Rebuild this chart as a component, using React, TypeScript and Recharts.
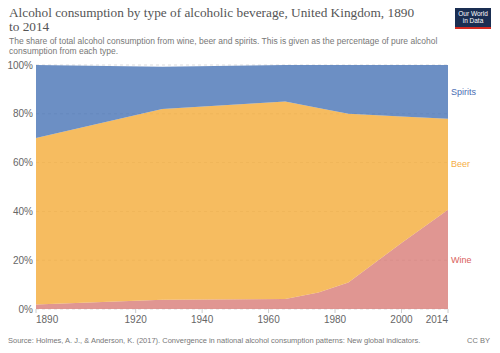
import React from 'react';
import { AreaChart, Area, XAxis, YAxis, CartesianGrid, ReferenceDot } from 'recharts';

// Share of pure alcohol consumption (%)
const years = [1890, 1928, 1965, 1975, 1984, 2000, 2014];
const wine = [1.8, 3.8, 4.1, 6.8, 10.9, 27.0, 40.7];
const beer = [68.3, 78.2, 80.9, 75.6, 69.1, 51.9, 37.3];
const spirits = [29.9, 17.3, 15.0, 17.6, 20.0, 21.1, 22.0];

const xTicks = [1890, 1920, 1940, 1960, 1980, 2000, 2014];
const yTicks = [0, 20, 40, 60, 80, 100];

const colors = {
  wine: '#d87c77',
  beer: '#f4ab38',
  spirits: '#4773b5',
};
const labelColors = {
  wine: '#d9605c',
  beer: '#f5ad45',
  spirits: '#4a6db3',
};

const data = years.map((year, i) => ({
  year,
  wine: wine[i],
  beer: beer[i],
  spirits: spirits[i],
}));

const last = years.length - 1;
const seriesLabels = [
  { name: 'Wine', key: 'wine', mid: wine[last] / 2 },
  { name: 'Beer', key: 'beer', mid: wine[last] + beer[last] / 2 },
  { name: 'Spirits', key: 'spirits', mid: wine[last] + beer[last] + spirits[last] / 2 },
];

const XTick = (props: any) => {
  const { x, y, payload, index } = props;
  let anchor = 'middle';
  if (index === 0) anchor = 'start';
  if (index === xTicks.length - 1) anchor = 'end';
  return (
    <text x={x} y={y} dy="0.71em" textAnchor={anchor} fill="#666" fontSize={10}>
      {payload.value}
    </text>
  );
};

export default function App() {
  return (
    <div
      style={{
        position: 'absolute',
        left: 0,
        top: 0,
        width: 500,
        height: 353,
        background: '#fff',
        fontFamily: '"Liberation Sans", Arial, sans-serif',
      }}
    >
      <div
        style={{
          position: 'absolute',
          left: 9,
          top: 6,
          fontFamily: '"Liberation Serif", serif',
          fontSize: 13.3,
          lineHeight: '13.5px',
          color: '#555',
        }}
      >
        Alcohol consumption by type of alcoholic beverage, United Kingdom, 1890
        <br />
        to 2014
      </div>
      <div
        style={{
          position: 'absolute',
          left: 9,
          top: 37,
          fontSize: 8.5,
          lineHeight: '9.5px',
          color: '#777',
        }}
      >
        The share of total alcohol consumption from wine, beer and spirits. This is given as the percentage of pure alcohol
        <br />
        consumption from each type.
      </div>

      <div
        style={{
          position: 'absolute',
          left: 455,
          top: 8,
          width: 36,
          height: 21,
          background: '#1a2e52',
          borderBottom: '2px solid #d42b21',
          boxSizing: 'border-box',
          color: '#fff',
          fontSize: 6.5,
          lineHeight: '7px',
          textAlign: 'center',
          paddingTop: 2,
        }}
      >
        Our World
        <br />
        in Data
      </div>

      <div style={{ position: 'absolute', left: 0, top: 0 }}>
        <AreaChart
          width={500}
          height={353}
          data={data}
          margin={{ top: 65, right: 52, bottom: 14, left: 6 }}
        >
          <CartesianGrid vertical={false} stroke="#ddd" strokeDasharray="3 3" />
          <XAxis
            dataKey="year"
            type="number"
            domain={[1890, 2014]}
            ticks={xTicks}
            interval={0}
            axisLine={false}
            tickLine={{ stroke: '#ccc' }}
            tickSize={4}
            tickMargin={3}
            tick={<XTick />}
          />
          <YAxis
            domain={[0, 100]}
            ticks={yTicks}
            width={30}
            axisLine={false}
            tickLine={false}
            tickSize={3}
            tickMargin={0}
            tickFormatter={(v) => `${v}%`}
            tick={{ fill: '#666', fontSize: 10 }}
            allowDataOverflow
          />
          <Area
            type="linear"
            dataKey="wine"
            name="Wine"
            stackId="1"
            stroke="none"
            fill={colors.wine}
            fillOpacity={0.8}
            isAnimationActive={false}
          />
          <Area
            type="linear"
            dataKey="beer"
            name="Beer"
            stackId="1"
            stroke="none"
            fill={colors.beer}
            fillOpacity={0.8}
            isAnimationActive={false}
          />
          <Area
            type="linear"
            dataKey="spirits"
            name="Spirits"
            stackId="1"
            stroke="none"
            fill={colors.spirits}
            fillOpacity={0.8}
            isAnimationActive={false}
          />
          {seriesLabels.map((s) => (
            <ReferenceDot
              key={s.key}
              x={years[last]}
              y={s.mid}
              r={1}
              fill="none"
              stroke="none"
              ifOverflow="visible"
              label={{
                value: s.name,
                position: 'right',
                offset: 2,
                fill: (labelColors as any)[s.key],
                fontSize: 9,
              }}
            />
          ))}
        </AreaChart>
      </div>

      <div
        style={{
          position: 'absolute',
          left: 8,
          top: 336,
          fontSize: 7.5,
          color: '#777',
          whiteSpace: 'nowrap',
        }}
      >
        Source: Holmes, A. J., &amp; Anderson, K. (2017). Convergence in national alcohol consumption patterns: New global indicators.
      </div>
      <div
        style={{
          position: 'absolute',
          right: 10,
          top: 336,
          fontSize: 7.5,
          color: '#777',
        }}
      >
        CC BY
      </div>
    </div>
  );
}
